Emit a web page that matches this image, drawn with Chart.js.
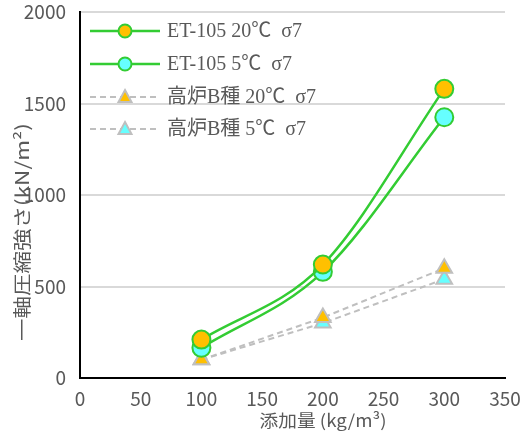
<!DOCTYPE html>
<html>
<head>
<meta charset="utf-8">
<script src="https://cdn.jsdelivr.net/npm/chart.js@4"></script>
<style>
  html, body { margin: 0; padding: 0; background: #fff; }
  #wrap { width: 526px; height: 437px; }
</style>
</head>
<body>
<div id="wrap"><canvas id="c" width="526" height="437"></canvas></div>
<script>
// Data
const xValues = [100, 200, 300];
const et20 = [210, 620, 1580];
const et5 = [165, 580, 1425];
const bf20 = [100, 330, 600];
const bf5 = [100, 300, 540];
const seriesLabels = ['ET-105 20℃  σ7', 'ET-105 5℃  σ7', '高炉B種 20℃  σ7', '高炉B種 5℃  σ7'];
const xTitle = '添加量 (kg/m³)';
const yTitle = '一軸圧縮強さ(kN/m²)';

const GREEN = '#33cc33';
const ORANGE = '#ffc000';
const CYAN = '#66ffff';
const GREY = '#bfbfbf';
const TEXT = '#595959';
const TICK_FONT = "'Liberation Sans Narrow', 'Noto Sans CJK JP', sans-serif";
const LEGEND_FONT = "'Liberation Serif', 'Noto Sans CJK JP', serif";
const TITLE_FONT = "'Noto Sans CJK JP', sans-serif";

const pts = ys => xValues.map((x, i) => ({ x, y: ys[i] }));

function etSet(label, ys, fill) {
  return {
    label, data: pts(ys),
    borderColor: GREEN, borderWidth: 2.5,
    pointStyle: 'circle', pointRadius: 9,
    pointBackgroundColor: fill, pointBorderColor: GREEN, pointBorderWidth: 2,
    tension: 0.4, cubicInterpolationMode: 'monotone',
  };
}

function bfSet(label, ys, fill) {
  return {
    label, data: pts(ys),
    borderColor: GREY, borderWidth: 2, borderDash: [6, 4],
    pointStyle: 'triangle', pointRadius: 9,
    pointBackgroundColor: fill, pointBorderColor: GREY, pointBorderWidth: 2,
    tension: 0,
  };
}

// Plugin: Excel-style legend inside the plot (line through the marker) + axis titles
const legendPlugin = {
  id: 'inLegend',
  afterDraw(ch) {
    const c = ch.ctx;
    const rowsY = [31, 64, 97, 129];
    ch.data.datasets.forEach((ds, i) => {
      const y = rowsY[i];
      c.save();
      c.beginPath();
      c.moveTo(90, y);
      c.lineTo(160, y);
      c.lineWidth = ds.borderWidth;
      c.strokeStyle = ds.borderColor;
      c.setLineDash(ds.borderDash || []);
      c.stroke();
      c.setLineDash([]);
      c.fillStyle = ds.pointBackgroundColor;
      c.strokeStyle = ds.pointBorderColor;
      c.lineWidth = ds.pointBorderWidth;
      c.beginPath();
      if (ds.pointStyle === 'circle') {
        c.arc(125, y, 6.5, 0, Math.PI * 2);
      } else {
        c.moveTo(125, y - 7);
        c.lineTo(131.5, y + 5);
        c.lineTo(118.5, y + 5);
        c.closePath();
      }
      c.fill();
      c.stroke();
      c.fillStyle = TEXT;
      c.font = '20px ' + LEGEND_FONT;
      c.textBaseline = 'middle';
      c.fillText(ds.label, 167, y + 1);
      c.restore();
    });

    // axis titles, placed like the original (not centred on the plot)
    c.save();
    c.fillStyle = TEXT;
    c.textAlign = 'center';
    c.textBaseline = 'middle';
    c.font = '17px ' + TITLE_FONT;
    c.translate(323, 421);
    c.scale(1.1, 1);
    c.fillText(xTitle, 0, 0);
    c.restore();

    c.save();
    c.fillStyle = TEXT;
    c.textAlign = 'center';
    c.textBaseline = 'middle';
    c.font = '18px ' + TITLE_FONT;
    c.translate(22, 232);
    c.rotate(-Math.PI / 2);
    c.scale(1.25, 1);
    c.fillText(yTitle, 0, 0);
    c.restore();
  },
};

// drop the label-overflow padding so layout.padding alone sets the plot edges
function noOverflow(s) {
  s.paddingTop = 0; s.paddingBottom = 0; s.paddingLeft = 0; s.paddingRight = 0;
}

new Chart(document.getElementById('c'), {
  type: 'line',
  plugins: [legendPlugin],
  data: {
    datasets: [
      etSet(seriesLabels[0], et20, ORANGE),
      etSet(seriesLabels[1], et5, CYAN),
      bfSet(seriesLabels[2], bf20, ORANGE),
      bfSet(seriesLabels[3], bf5, CYAN),
    ],
  },
  options: {
    responsive: false,
    animation: false,
    layout: { padding: { top: 12, right: 21, left: 0, bottom: 0 } },
    plugins: { legend: { display: false }, tooltip: { enabled: false } },
    scales: {
      x: {
        type: 'linear', min: 0, max: 350,
        ticks: { stepSize: 50, color: TEXT, font: { family: TICK_FONT, size: 19 }, padding: 9, maxRotation: 0 },
        grid: { display: false, drawTicks: false },
        border: { color: '#000', width: 2 },
        afterFit: s => { s.height = 59; noOverflow(s); },
      },
      y: {
        min: 0, max: 2000,
        ticks: {
          stepSize: 500, color: TEXT, font: { family: TICK_FONT, size: 19 }, padding: 14,
          callback: v => String(v),
        },
        grid: { color: '#d9d9d9', lineWidth: 2, drawTicks: false },
        border: { color: '#000', width: 2 },
        afterFit: s => { s.width = 80; noOverflow(s); },
      },
    },
  },
});
</script>
</body>
</html>
